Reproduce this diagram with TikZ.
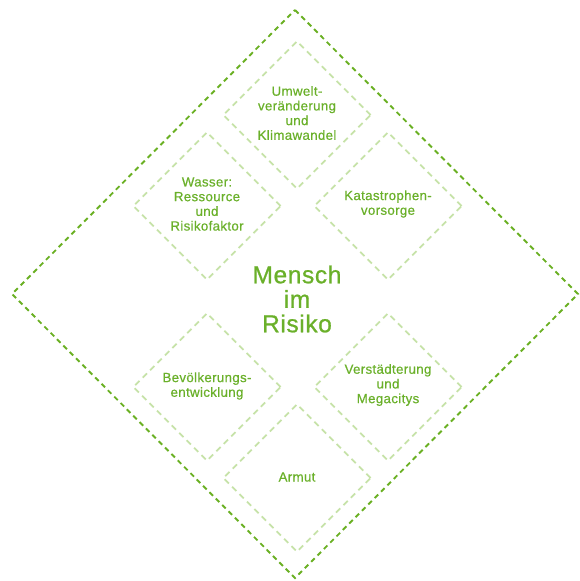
\documentclass[tikz,border=0pt]{standalone}
\usepackage{fontspec}
\setmainfont{Liberation Sans}[LetterSpace=2.5]
\usetikzlibrary{shapes.geometric}
\definecolor{bigline}{HTML}{6AB023}
\definecolor{smallline}{HTML}{C6E2A8}
\definecolor{txt}{HTML}{6AB02A}
\tikzset{
  diam/.style={draw=smallline, line width=1.9pt, dash pattern=on 6pt off 4.5pt,
    shape=diamond, minimum width=148pt, minimum height=148pt, inner sep=0pt, aspect=1},
  lbl/.style={text=txt, align=center, font=\fontsize{13.3}{14.7}\selectfont\addfontfeature{FakeBold=0.6}, inner sep=0pt},
  biglbl/.style={text=txt, align=center, font=\fontsize{24.5}{24.5}\selectfont\addfontfeature{FakeBold=0.8}, inner sep=0pt},
  bigdiam/.style={draw=bigline, line width=1.9pt, dash pattern=on 5pt off 4pt}
}
\begin{document}
\begin{tikzpicture}[x=1pt,y=-1pt]
\useasboundingbox (0,0) rectangle (580,581);
\draw[bigdiam] (295,10) -- (578,294) -- (295,578) -- (12,294) -- cycle;
\node[diam] (top) at (297,115) {};
\node[diam] (wa) at (207,206) {};
\node[diam] (ka) at (388,206) {};
\node[diam] (be) at (207,387) {};
\node[diam] (ve) at (388,387) {};
\node[diam] (ar) at (297,478) {};
\node[lbl] (ttop) at (297,113) {Umwelt-\\veränderung\\und\\Klimawandel};
\node[lbl] (twa) at (207,204) {Wasser:\\Ressource\\und\\Risikofaktor};
\node[lbl] (tka) at (388,204) {Katastrophen-\\vorsorge};
\node[lbl] (tbe) at (207,386) {Bevölkerungs-\\entwicklung};
\node[lbl] (tve) at (388,385) {Verstädterung\\und\\Megacitys};
\node[lbl] (tar) at (297,477) {Armut};
\node[biglbl] (center) at (297,299) {Mensch\\im\\Risiko};
\end{tikzpicture}
\end{document}
